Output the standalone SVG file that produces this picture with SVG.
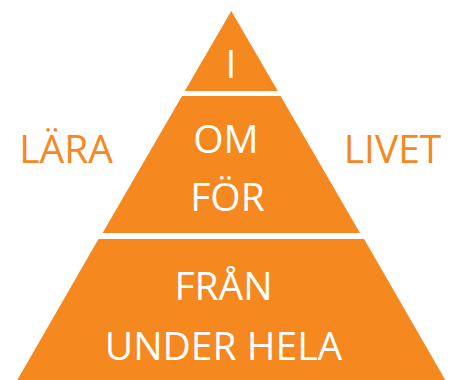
<svg xmlns="http://www.w3.org/2000/svg" width="457" height="380" viewBox="0 0 457 380">
<style>
.tier{fill:#F5881F}
.in{fill:#ffffff;font-family:"Open Sans","Liberation Sans",sans-serif;font-size:39px;text-anchor:middle}
.out{fill:#F5881F;font-family:"Open Sans","Liberation Sans",sans-serif;font-size:39px;text-anchor:middle}
</style>
<rect width="457" height="380" fill="#ffffff"/>
<g id="tier-top">
<polygon class="tier" points="231.3,11 277.8,91 184.8,91"/>
<text class="in" x="231" y="77.5">I</text>
</g>
<g id="tier-middle">
<polygon class="tier" points="182,96 280.6,96 360,233 102.6,233"/>
<text class="in" x="226" y="152.5">OM</text>
<text class="in" x="227.5" y="210.5">FÖR</text>
</g>
<g id="tier-bottom">
<polygon class="tier" points="98.5,239 364.1,239 445.3,380 17.3,380"/>
<text class="in" x="223.5" y="299.5">FRÅN</text>
<text class="in" x="223.5" y="360">UNDER HELA</text>
</g>
<g id="label-left">
<text class="out" x="66" y="163">LÄRA</text>
</g>
<g id="label-right">
<text class="out" x="392.5" y="163">LIVET</text>
</g>
<g id="connectors"></g>
</svg>
